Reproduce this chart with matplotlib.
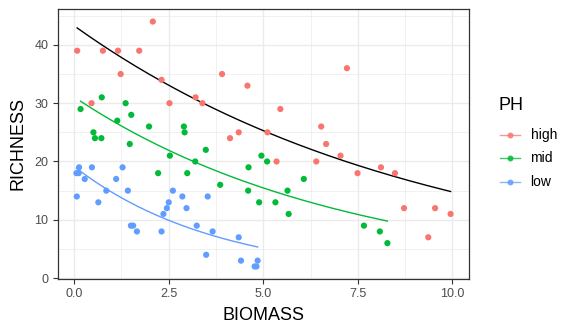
import numpy as np
import matplotlib
matplotlib.use("Agg")
import matplotlib.pyplot as plt
from matplotlib.lines import Line2D

plt.rcParams['font.family'] = ['Liberation Sans', 'DejaVu Sans']

# ---- data ----
high_biomass = [0.08, 0.76, 1.16, 1.72, 2.08, 1.23, 2.31, 0.46, 2.52, 3.21,
                3.91, 4.58, 3.39, 5.45, 4.35, 4.12, 5.11, 6.53, 6.66, 7.21,
                5.35, 6.40, 7.04, 7.49, 8.11, 8.48, 8.72, 9.54, 9.95, 9.36]
high_richness = [39, 39, 39, 39, 44, 35, 34, 30, 30, 31,
                 35, 33, 30, 29, 25, 24, 25, 26, 23, 36,
                 20, 20, 21, 18, 19, 18, 12, 12, 11, 7]

mid_biomass = [0.17, 0.73, 1.36, 1.51, 1.14, 1.98, 2.90, 2.92, 0.51, 0.55,
               0.72, 1.47, 3.48, 4.95, 5.10, 4.61, 6.07, 3.86, 4.60, 5.64,
               4.89, 5.32, 5.67, 7.66, 8.08, 8.28, 2.53, 3.20, 2.22, 2.99]
mid_richness = [29, 31, 30, 28, 27, 26, 26, 25, 25, 24,
                24, 23, 22, 21, 20, 19, 17, 16, 15, 15,
                13, 13, 11, 9, 8, 6, 21, 20, 18, 18]

low_biomass = [0.06, 0.12, 0.13, 0.47, 1.28, 0.28, 1.11, 0.07, 0.85, 1.42,
               0.64, 2.61, 2.86, 3.53, 2.50, 2.45, 2.97, 2.36, 1.50, 1.56,
               1.66, 2.31, 3.24, 3.66, 4.35, 3.49, 4.41, 4.85, 4.77, 4.82]
low_richness = [18, 18, 19, 19, 19, 17, 17, 14, 15, 15,
                13, 15, 14, 14, 13, 12, 12, 11, 9, 9,
                8, 8, 9, 8, 7, 4, 3, 3, 2, 2]

groups = ['high', 'mid', 'low']
point_colors = ['#F8766D', '#00BA38', '#619CFF']
line_colors = ['#000000', '#00BA38', '#619CFF']
xticks = [0.0, 2.5, 5.0, 7.5, 10.0]
xticklabels = ['0.0', '2.5', '5.0', '7.5', '10.0']
yticks = [0, 10, 20, 30, 40]
yticklabels = ['0', '10', '20', '30', '40']

data = {
    'high': (np.array(high_biomass), np.array(high_richness, float)),
    'mid': (np.array(mid_biomass), np.array(mid_richness, float)),
    'low': (np.array(low_biomass), np.array(low_richness, float)),
}


def poisson_fit(x, y, n_iter=50):
    X = np.column_stack([np.ones_like(x), x])
    beta = np.array([np.log(y.mean()), 0.0])
    for _ in range(n_iter):
        eta = X @ beta
        mu = np.exp(eta)
        z = eta + (y - mu) / mu
        W = mu
        XtW = X.T * W
        beta = np.linalg.solve(XtW @ X, XtW @ z)
    return beta


fig = plt.figure(figsize=(5.76, 3.36), dpi=100)
L, R, B, T = 57.7 / 576, 469.3 / 576, (336 - 278.7) / 336, (336 - 9.3) / 336
ax = fig.add_axes([L, B, R - L, T - B])

for g, pc, lc in zip(groups, point_colors, line_colors):
    x, y = data[g]
    b = poisson_fit(x, y)
    xs = np.linspace(x.min(), x.max(), 200)
    ax.plot(xs, np.exp(b[0] + b[1] * xs), color=lc, lw=1.0, zorder=3)
    ax.scatter(x, y, s=20, color=pc, edgecolors='none', zorder=4)

allx = np.concatenate([data[g][0] for g in groups])
ally = np.concatenate([data[g][1] for g in groups])
xr = allx.max() - allx.min()
yr = ally.max() - ally.min()
ax.set_xlim(allx.min() - 0.05 * xr, allx.max() + 0.05 * xr)
ax.set_ylim(ally.min() - 0.05 * yr, ally.max() + 0.05 * yr)

ax.set_xticks(xticks)
ax.set_xticklabels(xticklabels)
ax.set_yticks(yticks)
ax.set_yticklabels(yticklabels)
ax.set_xticks([1.25, 3.75, 6.25, 8.75], minor=True)
ax.set_yticks([5, 15, 25, 35, 45], minor=True)
ax.grid(True, which='major', color='#EBEBEB', lw=1.0, zorder=0)
ax.grid(True, which='minor', color='#EBEBEB', lw=0.5, zorder=0)
ax.set_axisbelow(True)
ax.tick_params(which='minor', length=0)
ax.tick_params(which='major', length=3.5, width=0.8, color='#333333',
               labelcolor='#4D4D4D', labelsize=9, pad=3.2)
for s in ax.spines.values():
    s.set_color('#333333')
    s.set_linewidth(0.9)

ax.set_xlabel('BIOMASS', fontsize=13, color='black', labelpad=5)
ax.set_ylabel('RICHNESS', fontsize=13, color='black', labelpad=6)

# legend (drawn manually to match ggplot placement)
fig.text(498 / 576, 1 - 105 / 336, 'PH', fontsize=13, va='center', ha='left')
for i, (g, pc) in enumerate(zip(groups, point_colors)):
    yy = 1 - (135 + i * 23.3) / 336
    fig.add_artist(Line2D([500 / 576, 519.5 / 576], [yy, yy], color=pc,
                          lw=1.0, alpha=0.75, transform=fig.transFigure))
    fig.add_artist(Line2D([509.7 / 576], [yy], color=pc, marker='o', ms=4.3,
                          mec='none', alpha=0.85, transform=fig.transFigure))
    fig.text(530.5 / 576, yy, g, fontsize=10, va='center', ha='left')

fig.savefig('out.png', dpi=100)
